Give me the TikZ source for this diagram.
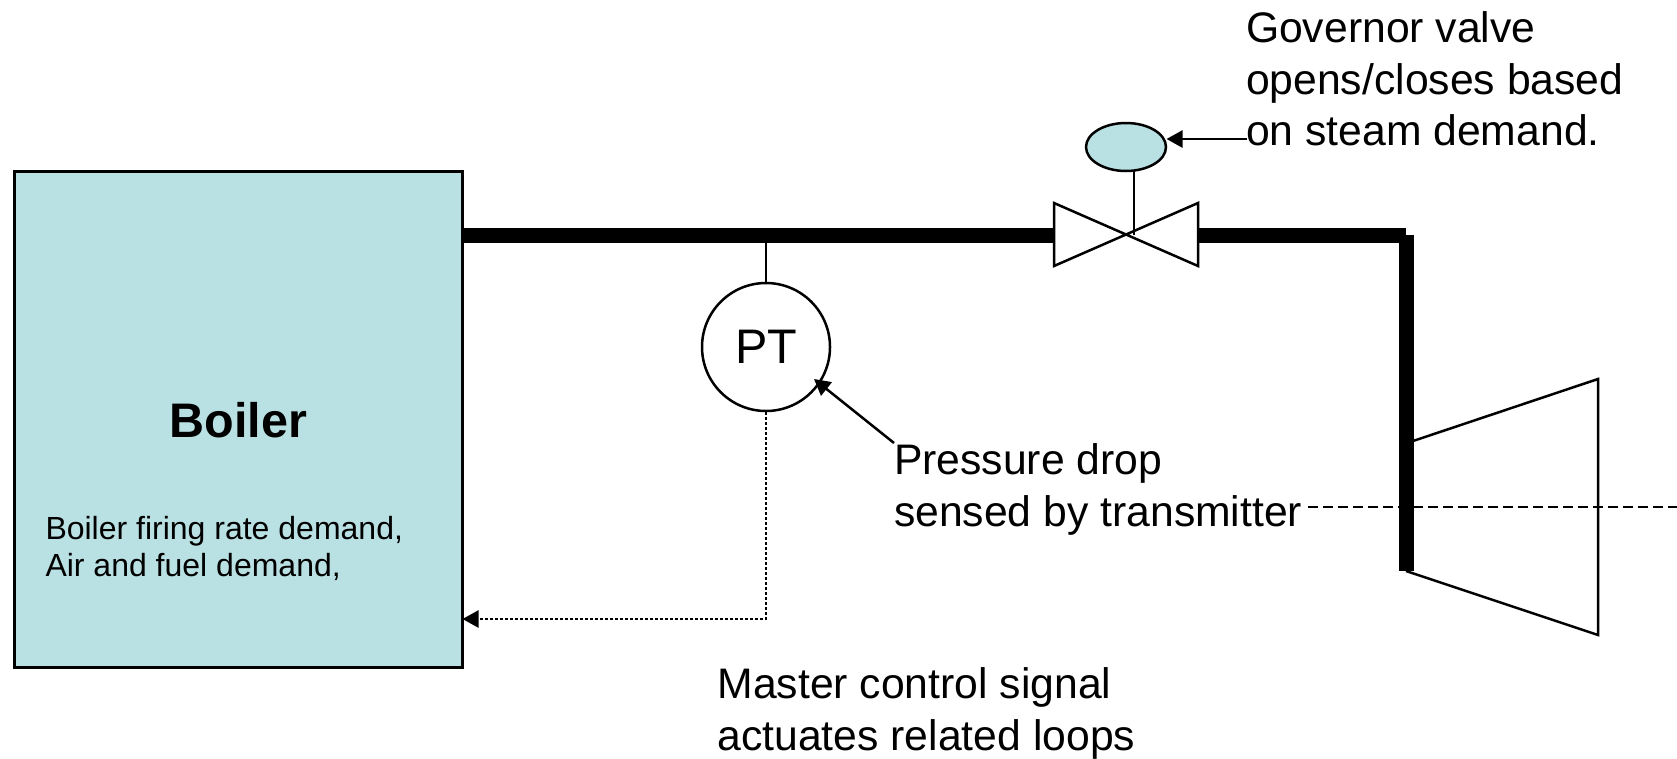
\documentclass[tikz,border=0pt]{standalone}
\usepackage{fontspec}
\setmainfont{Liberation Sans}
\usetikzlibrary{shapes.geometric,arrows.meta}
\definecolor{paleteal}{HTML}{B9E0E2}
\tikzset{
  thinline/.style={draw=black,line width=2.5pt},
  pipe/.style={draw=black,line width=15pt},
  tip/.style={-{Triangle[length=16pt,width=17pt]}},
  bigtext/.style={inner sep=0pt,outer sep=0pt,align=left,anchor=north west,font=\fontsize{42.7}{51.3}\selectfont},
  smalltext/.style={inner sep=0pt,outer sep=0pt,align=left,anchor=north west,font=\fontsize{32}{37.4}\selectfont},
}
\begin{document}
\begin{tikzpicture}[x=1pt,y=-1pt]
\useasboundingbox (0,0) rectangle (1677,758);
% boiler
\node[thinline,fill=paleteal,minimum width=448pt,minimum height=496pt,inner sep=0pt,anchor=north west] (boiler) at (13,170) {};
\node[inner sep=0pt,font=\fontsize{48.5}{50}\selectfont\bfseries] (boilertitle) at (238.5,420) {Boiler};
\node[smalltext] (boilertext) at (45.5,516) {Boiler firing rate demand,\\Air and fuel demand,};
% pipes
\coordinate (pipeA) at (462,235);
\coordinate (valveL) at (1054,235);
\coordinate (valveR) at (1198,235);
\coordinate (corner) at (1406,235);
\coordinate (pipeEnd) at (1406,571);
\draw[pipe] (pipeA) -- (valveL);
\draw[pipe] (valveR) -- (corner);
\draw[pipe] (corner) -- (pipeEnd);
% valve
\coordinate (vc) at (1126,235);
\coordinate (vtl) at (1054,203);
\coordinate (vbl) at (1054,266);
\coordinate (vtr) at (1198,203);
\coordinate (vbr) at (1198,266);
\draw[thinline,line join=miter] (vtl) -- (vbr) -- (vtr) -- (vbl) -- cycle;
% actuator
\node[thinline,ellipse,fill=paleteal,minimum width=80pt,minimum height=48pt,inner sep=0pt] (actuator) at (1126,147) {};
\coordinate (stemTop) at (1134,171);
\coordinate (stemBot) at (1134,235);
\draw[thinline] (stemTop) -- (stemBot);
% PT
\node[thinline,circle,minimum size=128pt,inner sep=0pt,font=\fontsize{48.5}{50}\selectfont] (pt) at (766,347) {PT};
\coordinate (ptstem) at (766,235);
\draw[thinline] (ptstem) -- (pt.north);
\coordinate (sigcorner) at (766,619);
\coordinate (sigend) at (462.5,619);
\draw[thinline,dash pattern=on 2.5pt off 2.5pt,tip] (pt.south) -- (sigcorner) -- (sigend);
% labels
\node[bigtext] (gov) at (1246,12) {Governor valve\\opens/closes based\\on steam demand.};
\coordinate (govarrow) at (1247,139);
\coordinate (actright) at (1166.5,139);
\draw[thinline,tip] (govarrow) -- (actright);
\node[bigtext] (drop) at (894,444) {Pressure drop\\sensed by transmitter};
\coordinate (droparrow) at (894,443);
\coordinate (ptedge) at (814,379);
\draw[thinline,tip] (droparrow) -- (ptedge);
\node[bigtext] (master) at (717.5,668) {Master control signal\\actuates related loops};
% turbine
\coordinate (t1) at (1413,441);
\coordinate (t2) at (1598,379);
\coordinate (t3) at (1598,635);
\coordinate (t4) at (1406,571);
\draw[thinline] (t1) -- (t2) -- (t3) -- (t4);
\coordinate (shaftA) at (1308,507);
\coordinate (shaftB) at (1677,507);
\draw[thinline,dash pattern=on 10pt off 5pt] (shaftA) -- (shaftB);
\end{tikzpicture}
\end{document}
